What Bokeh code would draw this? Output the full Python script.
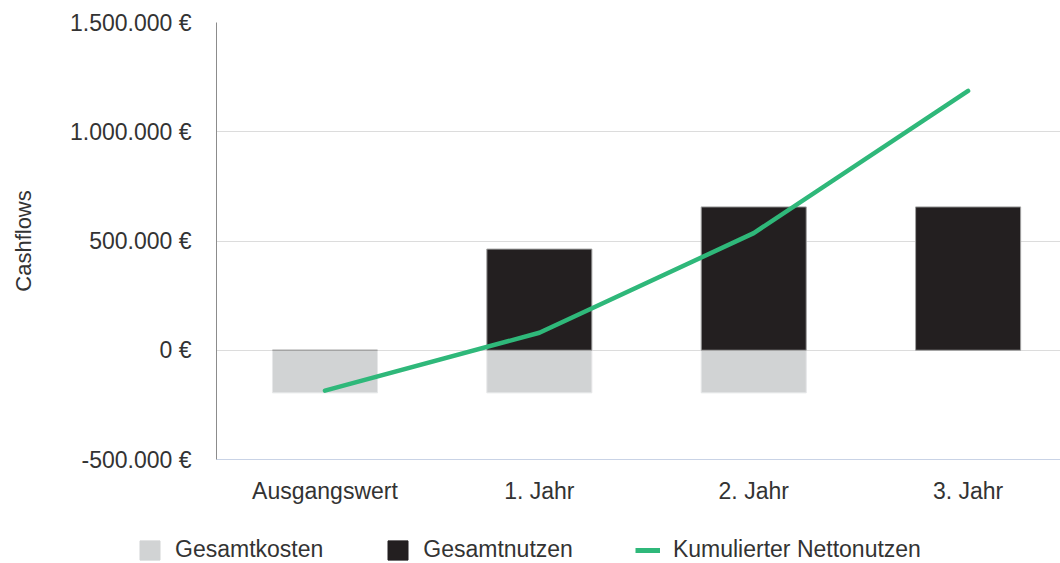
from bokeh.plotting import figure
from bokeh.models import Range1d, FixedTicker, Legend, LegendItem, ColumnDataSource
from bokeh.layouts import column
from bokeh.embed import file_html
from bokeh.resources import INLINE

categories = ["Ausgangswert", "1. Jahr", "2. Jahr", "3. Jahr"]
gesamtkosten = [-195000, -195000, -195000, 0]
gesamtnutzen = [0, 463000, 656000, 656000]
kumuliert = [-185000, 80000, 536000, 1187000]
y_ticks = [-500000, 0, 500000, 1000000, 1500000]
y_tick_labels = ["-500.000 €", "0 €", "500.000 €", "1.000.000 €", "1.500.000 €"]
series_names = ["Gesamtkosten", "Gesamtnutzen", "Kumulierter Nettonutzen"]

FONT = "Liberation Sans"
TXT = "#333333"
C_KOSTEN = "#d1d3d4"
C_NUTZEN = "#231f20"
C_LINE = "#2fb87a"

x = list(range(len(categories)))
src = ColumnDataSource(dict(x=x, kosten=gesamtkosten, nutzen=gesamtnutzen, kum=kumuliert))

p = figure(width=1060, height=512, output_backend="svg", toolbar_location=None,
           x_range=Range1d(-0.506, 3.431), y_range=Range1d(-500000, 1500000),
           min_border_left=216, min_border_right=0, min_border_top=22, min_border_bottom=53)
p.outline_line_color = None

p.vbar(x="x", top="kosten", bottom=0, width=0.49, source=src,
       fill_color=C_KOSTEN, line_color="#e6e7e8", line_width=1)
p.vbar(x="x", top="nutzen", bottom=0, width=0.49, source=src,
       fill_color=C_NUTZEN, line_color="#a0a0a0", line_width=1)
p.line(x="x", y="kum", source=src, line_color=C_LINE, line_width=4.5,
       line_cap="round", line_join="round")

p.xaxis.ticker = FixedTicker(ticks=x)
p.xaxis.major_label_overrides = {i: c for i, c in zip(x, categories)}
p.xaxis.major_tick_line_color = None
p.xaxis.minor_tick_line_color = None
p.xaxis.axis_line_color = "#c9d3e6"
p.xaxis.major_label_standoff = 12
p.xaxis.major_label_text_font = FONT
p.xaxis.major_label_text_font_size = "23px"
p.xaxis.major_label_text_color = TXT

p.yaxis.ticker = FixedTicker(ticks=y_ticks)
p.yaxis.major_label_overrides = {t: l for t, l in zip(y_ticks, y_tick_labels)}
p.yaxis.major_tick_line_color = None
p.yaxis.minor_tick_line_color = None
p.yaxis.axis_line_color = "#8c8c8c"
p.yaxis.major_label_standoff = 19
p.yaxis.major_label_text_font = FONT
p.yaxis.major_label_text_font_size = "23px"
p.yaxis.major_label_text_color = TXT
p.yaxis.axis_label = "Cashflows"
p.yaxis.axis_label_standoff = 31
p.yaxis.axis_label_text_font = FONT
p.yaxis.axis_label_text_font_size = "22px"
p.yaxis.axis_label_text_font_style = "normal"
p.yaxis.axis_label_text_color = TXT

p.xgrid.grid_line_color = None
p.ygrid.grid_line_color = "#dcdcdc"
p.ygrid.grid_line_width = 1

# legend strip: swatch renderers live outside the visible range, only the legend is seen
lg = figure(width=1060, height=51, output_backend="svg", toolbar_location=None,
            x_axis_type=None, y_axis_type=None, x_range=Range1d(0, 1), y_range=Range1d(0, 1),
            min_border_left=0, min_border_right=0, min_border_top=0, min_border_bottom=0)
lg.outline_line_color = None
lg.xgrid.grid_line_color = None
lg.ygrid.grid_line_color = None
for fig in (p, lg):
    try:
        fig.frame_align = False
    except Exception:
        pass
dummy = ColumnDataSource(dict(x=[-5], top=[0], y=[-5]))
d_k = lg.vbar(x="x", top="top", width=0, source=dummy, fill_color=C_KOSTEN, line_color=C_KOSTEN)
d_n = lg.vbar(x="x", top="top", width=0, source=dummy, fill_color=C_NUTZEN, line_color=C_NUTZEN)
d_l = lg.line(x="x", y="y", source=dummy, line_color=C_LINE, line_width=5)

legend = Legend(items=[LegendItem(label=n, renderers=[r]) for n, r in zip(series_names, [d_k, d_n, d_l])],
                orientation="horizontal", location=(137, 0))
legend.border_line_color = None
legend.background_fill_alpha = 0
legend.padding = 0
legend.margin = 0
legend.glyph_width = 25
legend.glyph_height = 24
legend.label_standoff = 13
legend.spacing = 62
legend.label_text_font = FONT
legend.label_text_font_size = "23px"
legend.label_text_color = TXT
lg.add_layout(legend, "center")

layout = column(p, lg, spacing=0)
open("out.html", "w").write(file_html(layout, INLINE))
